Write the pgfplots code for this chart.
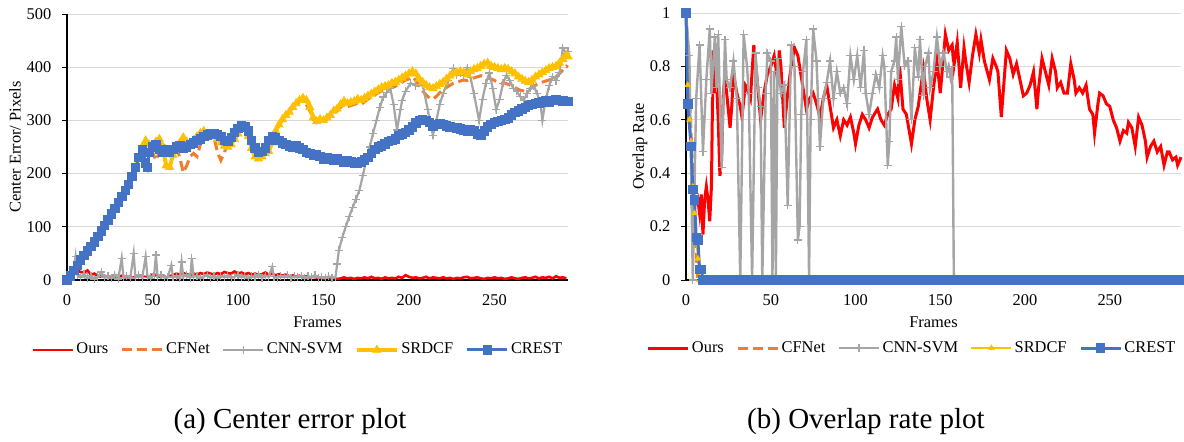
\documentclass[border=0pt]{standalone}
\usepackage{fontspec}
\setmainfont{Liberation Serif}
\usepackage{pgfplots}
\pgfplotsset{compat=1.18}
\definecolor{oursred}{RGB}{255,0,0}
\definecolor{cforange}{RGB}{237,125,49}
\definecolor{svmgray}{RGB}{165,165,165}
\definecolor{srgold}{RGB}{255,192,0}
\definecolor{crblue}{RGB}{68,114,196}
\definecolor{gridgray}{RGB}{217,217,217}
\pgfplotsset{
  common/.style={
    scale only axis,
    axis x line*=bottom, axis y line*=left,
    axis line style={black, line width=0.6pt},
    xtick style={draw=none},
    ytick style={black, line width=0.5pt},
    major tick length=2.5pt, tick align=outside,
    ymajorgrids, grid style={line width=0.5pt, draw=gridgray},
    tick label style={font=\fontsize{8.2}{9.8}\selectfont},
    /pgf/number format/assume math mode=true,
    xticklabel style={yshift=-1.2pt},
    yticklabel style={xshift=-1.8pt},
    label style={font=\fontsize{8.2}{9.8}\selectfont},
    clip=false,
    xtick={0,50,...,250},
    legend image code/.code={\draw[mark repeat=2,mark phase=2,##1] plot coordinates {(0pt,0pt) (10pt,0pt) (20pt,0pt)};},
    legend style={draw=none, fill=none, legend columns=5, font=\fontsize{8.2}{9.8}\selectfont,
      /tikz/every even column/.append style={column sep=5pt}, inner sep=0pt,
      nodes={inner sep=1.2pt}},
  },
  ours/.style={oursred, line width=1.3pt, no marks},
  cfnet/.style={cforange, line width=1.5pt, dash pattern=on 5pt off 2.5pt, no marks},
  svm/.style={svmgray, line width=1.1pt, mark=+, mark size=2pt, mark options={solid, line width=0.6pt}},
  srdcf/.style={srgold, line width=2pt, mark=triangle*, mark size=2.3pt, mark options={solid, line width=0.4pt}},
  crest/.style={crblue, line width=1.5pt, mark=square*, mark size=2.1pt, mark options={solid, line width=0.4pt}},
}
\begin{document}
\begin{tikzpicture}[x=1pt,y=1pt]
\useasboundingbox (0,0) rectangle (592,220.5);
% ---------------- left: center error ----------------
\begin{axis}[common,
  at={(33.5pt,80.5pt)}, anchor=south west,
  width=250.5pt, height=133pt,
  xmin=0, xmax=293, ymin=0, ymax=500,
  ytick={0,100,...,500},
  xlabel={Frames}, ylabel={Center Error/ Pixels},
  xlabel style={at={(axis description cs:0.5,-0.158)}, anchor=center},
  ylabel style={at={(axis description cs:-0.1038,0.5)}, rotate=0, anchor=center},
  legend style={at={(axis description cs:0.461,-0.263)}, anchor=center},
]
\addplot[ours] coordinates {
(0,0)(2,5)(4,12)(6,18)(8,15)(10,14)(12,18)(14,10)(16,12)(18,8)(20,6)(22,8)(24,5)(26,7)(28,4)(30,6)(32,8)(34,5)(36,7)(38,4)(40,6)(42,8)(44,5)(46,7)(48,6)(50,10)(52,8)(54,6)(56,8)(58,5)(60,7)(62,9)(64,12)(66,10)(68,13)(70,11)(72,9)(74,12)(76,10)(78,13)(80,11)(82,14)(84,12)(86,10)(88,13)(90,11)(92,15)(94,13)(96,12)(98,16)(100,12)(102,14)(104,11)(106,13)(108,10)(110,12)(112,9)(114,11)(116,14)(118,10)(120,12)(122,9)(124,11)(126,8)(128,10)(130,7)(132,9)(134,6)(136,8)(138,5)(140,7)(142,5)(144,6)(146,4)(148,5)(150,3)(152,5)(154,3)(156,4)(158,2)(160,3)(162,5)(164,3)(166,4)(168,2)(170,4)(172,3)(174,5)(176,3)(178,6)(180,3)(182,4)(184,2)(186,5)(188,3)(190,4)(192,3)(194,6)(196,4)(198,9)(200,6)(202,4)(204,5)(206,3)(208,4)(210,6)(212,3)(214,5)(216,4)(218,3)(220,5)(222,3)(224,4)(226,2)(228,4)(230,3)(232,5)(234,6)(236,3)(238,4)(240,5)(242,3)(244,2)(246,4)(248,3)(250,5)(252,3)(254,4)(256,2)(258,3)(260,5)(262,3)(264,2)(266,4)(268,5)(270,3)(272,4)(274,6)(276,3)(278,5)(280,4)(282,6)(284,3)(286,7)(288,4)(290,5)(292,3)
};
\addlegendentry{Ours}
\addplot[cfnet] coordinates {
(0,0)(10,46)(20,92)(30,146)(40,212)(44,248)(46,255)(48,250)(50,240)(52,225)(54,240)(56,255)(58,250)(60,245)(62,248)(64,250)(66,230)(68,202)(70,215)(72,232)(74,238)(76,232)(78,255)(80,270)(82,275)(84,272)(86,268)(88,240)(90,225)(92,240)(94,255)(96,262)(98,270)(100,282)(102,290)(104,285)(106,268)(108,250)(110,235)(112,228)(114,232)(116,240)(118,250)(120,265)(122,280)(124,292)(126,300)(128,308)(130,318)(132,325)(134,330)(136,335)(138,338)(140,330)(142,318)(144,302)(146,296)(148,300)(150,298)(152,302)(154,308)(156,314)(158,318)(160,325)(162,330)(164,326)(166,328)(168,330)(170,332)(172,330)(174,335)(176,340)(178,344)(180,348)(182,352)(184,355)(186,358)(188,360)(190,362)(192,364)(194,368)(196,372)(198,376)(200,378)(202,382)(204,375)(206,365)(208,355)(210,348)(212,342)(214,340)(216,345)(218,352)(220,358)(222,362)(224,366)(226,370)(228,372)(230,374)(232,376)(234,375)(236,378)(238,380)(240,382)(242,384)(244,382)(246,380)(248,378)(250,375)(252,372)(254,370)(256,370)(258,368)(260,365)(262,362)(264,358)(266,356)(268,355)(270,358)(272,362)(274,366)(276,370)(278,372)(280,374)(282,376)(284,378)(286,382)(288,388)(290,395)(292,402)(293,400)
};
\addlegendentry{CFNet}
\addplot[svm] coordinates {
(0,0)(2,5)(4,20)(5,44)(6,10)(8,5)(10,12)(12,3)(14,8)(16,2)(18,6)(20,15)(22,4)(24,8)(26,3)(28,10)(30,2)(32,41)(33,5)(35,8)(37,3)(39,50)(40,5)(42,10)(44,4)(46,44)(47,8)(49,3)(51,12)(52,47)(53,6)(55,10)(57,4)(59,6)(61,28)(62,5)(64,8)(66,3)(67,34)(68,6)(70,10)(72,4)(73,41)(74,6)(76,8)(78,3)(80,6)(82,10)(84,4)(86,7)(88,3)(90,8)(92,5)(94,9)(96,4)(98,6)(100,10)(102,5)(104,8)(106,3)(108,7)(110,5)(112,10)(114,4)(116,8)(118,6)(120,25)(121,6)(123,4)(125,8)(127,5)(129,9)(131,4)(133,7)(135,5)(137,8)(139,3)(141,7)(143,5)(145,9)(147,4)(149,6)(151,3)(153,7)(155,4)(157,5)(158,30)(159,56)(161,80)(163,100)(165,119)(167,136)(169,152)(171,169)(173,196)(175,225)(177,250)(179,276)(181,300)(183,325)(185,344)(187,352)(189,361)(191,330)(193,282)(195,320)(196,338)(198,355)(201,370)(204,365)(208,367)(211,320)(214,272)(216,300)(218,330)(220,351)(223,375)(226,398)(228,385)(230,390)(232,385)(234,399)(236,380)(238,350)(241,300)(243,340)(245,370)(247,389)(249,360)(251,320)(253,340)(255,370)(257,385)(259,375)(261,360)(263,355)(265,345)(267,338)(269,350)(271,360)(273,365)(275,350)(277,330)(278,300)(280,340)(282,365)(284,382)(286,375)(288,390)(290,436)(292,425)(293,430)
};
\addlegendentry{CNN-SVM}
\addplot[srdcf] coordinates {
(0,0)(4,18)(8,38)(12,55)(16,72)(20,92)(24,113)(28,135)(32,157)(36,180)(40,212)(44,250)(46,262)(48,255)(50,245)(52,260)(54,265)(56,250)(58,215)(60,212)(62,235)(64,250)(66,258)(68,268)(70,260)(72,255)(74,262)(76,270)(78,276)(80,280)(82,274)(84,270)(86,272)(88,265)(90,258)(92,252)(94,250)(96,255)(98,265)(100,275)(102,288)(104,285)(106,270)(108,248)(110,232)(112,228)(114,232)(116,238)(118,242)(120,258)(122,280)(124,292)(126,302)(128,310)(130,316)(132,325)(134,332)(136,338)(138,342)(140,338)(142,325)(144,305)(146,298)(148,302)(150,300)(152,305)(154,310)(156,318)(158,322)(160,330)(162,336)(164,332)(166,334)(168,336)(170,340)(172,338)(174,342)(176,346)(178,350)(180,354)(182,358)(184,362)(186,364)(188,366)(190,370)(192,372)(194,376)(196,380)(198,384)(200,388)(202,392)(204,388)(206,378)(208,372)(210,366)(212,362)(214,360)(216,364)(218,368)(220,372)(222,378)(224,384)(226,388)(228,390)(230,392)(232,390)(234,386)(236,392)(238,396)(240,398)(242,402)(244,406)(246,408)(248,402)(250,400)(252,398)(254,396)(256,398)(258,396)(260,392)(262,388)(264,382)(266,378)(268,374)(270,372)(272,376)(274,382)(276,386)(278,390)(280,394)(282,398)(284,400)(286,402)(288,408)(290,415)(292,422)(293,420)
};
\addlegendentry{SRDCF}
\addplot[crest] coordinates {
(0,0)(2,8)(4,18)(6,28)(8,38)(10,46)(12,55)(14,63)(16,72)(18,82)(20,92)(22,103)(24,113)(26,124)(28,135)(30,146)(32,157)(34,168)(36,180)(38,195)(40,212)(42,230)(44,245)(46,220)(47,212)(48,240)(50,250)(52,255)(54,245)(56,240)(58,245)(60,240)(62,245)(64,250)(66,252)(68,248)(70,250)(72,255)(74,258)(76,262)(78,265)(80,270)(82,273)(84,276)(86,275)(88,274)(90,270)(92,262)(94,260)(96,268)(98,278)(100,285)(102,290)(104,288)(106,280)(108,262)(110,248)(112,240)(114,242)(116,248)(118,262)(120,270)(122,268)(124,262)(126,258)(128,255)(130,252)(132,250)(134,252)(136,248)(138,245)(140,240)(142,238)(144,235)(146,236)(148,232)(150,228)(152,230)(154,228)(156,226)(158,228)(160,225)(162,222)(164,224)(166,222)(168,220)(170,220)(172,222)(174,226)(176,230)(178,238)(180,245)(182,250)(184,252)(186,256)(188,260)(190,262)(192,265)(194,272)(196,275)(198,278)(200,282)(202,288)(204,295)(206,300)(208,302)(210,300)(212,296)(214,290)(216,292)(218,294)(220,292)(222,290)(224,288)(226,287)(228,286)(230,284)(232,282)(234,280)(236,282)(238,280)(240,275)(242,272)(244,280)(246,288)(248,292)(250,296)(252,298)(254,300)(256,302)(258,305)(260,310)(262,315)(264,318)(266,322)(268,325)(270,328)(272,330)(274,332)(276,333)(278,335)(280,337)(282,335)(284,338)(286,340)(288,338)(290,337)(292,336)(293,336)
};
\addlegendentry{CREST}
\end{axis}
% ---------------- right: overlap rate ----------------
\begin{axis}[common,
  at={(343pt,80.5pt)}, anchor=south west,
  width=247.5pt, height=133.5pt,
  xmin=0, xmax=292, ymin=0, ymax=1,
  ytick={0,0.2,0.4,0.6,0.8,1},
  xlabel={Frames}, ylabel={Overlap Rate},
  xlabel style={at={(axis description cs:0.5,-0.157)}, anchor=center},
  ylabel style={at={(axis description cs:-0.0929,0.5)}, rotate=0, anchor=center},
  legend style={at={(axis description cs:0.457,-0.255)}, anchor=center},
]
\addplot[ours, line width=1.5pt] coordinates {
(6,0.28)(7,0.30)(8,0.25)(9,0.32)(10,0.17)(11,0.30)(12,0.35)(13,0.30)(14,0.22)(15,0.35)(16,0.86)(17,0.70)(18,0.75)(19,0.60)(20,0.39)(21,0.45)(22,0.70)(23,0.76)(24,0.70)(26,0.57)(27,0.65)(28,0.77)(30,0.70)(32,0.65)(33,0.61)(35,0.73)(36,0.72)(38,0.68)(40,0.88)(42,0.75)(44,0.60)(46,0.70)(48,0.77)(50,0.80)(52,0.84)(54,0.75)(55,0.86)(56,0.80)(58,0.57)(60,0.70)(62,0.80)(64,0.87)(66,0.84)(67,0.80)(69,0.72)(71,0.64)(73,0.68)(75,0.70)(77,0.66)(79,0.61)(81,0.68)(83,0.73)(85,0.65)(87,0.57)(89,0.60)(91,0.54)(93,0.60)(95,0.58)(97,0.61)(99,0.55)(100,0.51)(102,0.58)(104,0.62)(106,0.60)(108,0.57)(110,0.61)(113,0.64)(115,0.60)(117,0.58)(119,0.62)(121,0.64)(123,0.73)(125,0.68)(126,0.80)(128,0.64)(130,0.62)(133,0.51)(135,0.60)(137,0.65)(140,0.79)(142,0.68)(144,0.60)(146,0.72)(148,0.82)(150,0.70)(153,0.92)(155,0.86)(157,0.88)(158,0.80)(160,0.89)(162,0.72)(164,0.87)(165,0.82)(167,0.74)(169,0.84)(171,0.92)(173,0.85)(174,0.90)(176,0.82)(179,0.75)(181,0.83)(183,0.80)(184,0.78)(186,0.61)(189,0.86)(191,0.83)(193,0.77)(195,0.81)(197,0.75)(199,0.69)(201,0.70)(203,0.73)(205,0.78)(207,0.64)(208,0.72)(210,0.83)(212,0.78)(214,0.73)(216,0.83)(218,0.78)(219,0.72)(221,0.74)(223,0.70)(225,0.70)(227,0.81)(229,0.75)(230,0.70)(232,0.72)(234,0.70)(236,0.73)(238,0.64)(240,0.62)(241,0.55)(243,0.66)(244,0.70)(246,0.69)(248,0.66)(250,0.65)(252,0.60)(254,0.57)(256,0.52)(258,0.56)(260,0.55)(261,0.59)(263,0.57)(265,0.50)(267,0.61)(269,0.58)(271,0.52)(272,0.46)(274,0.50)(276,0.52)(278,0.48)(280,0.50)(282,0.43)(284,0.48)(285,0.48)(287,0.45)(289,0.46)(290,0.43)(292,0.46)
};
\addlegendentry{Ours}
\addplot[cfnet] coordinates {(0,1)(2,0.7)(4,0.4)(6,0.1)(7,0)(292,0)};
\addlegendentry{CFNet}
\addplot[svm, line width=1.2pt] coordinates {
(0,1)(2,0.84)(4,0)(6,0.68)(8,0.88)(10,0.48)(12,0.75)(14,0.94)(15,0.70)(17,0.91)(18,0.72)(19,0.92)(21,0.42)(23,0.90)(24,0.75)(26,0.72)(28,0.82)(30,0.68)(32,0)(34,0.92)(36,0.80)(37,0.70)(39,0)(41,0.85)(42.5,0.72)(44,0.65)(45,0)(47,0.70)(48,0.85)(50,0.82)(51,0)(52,0.78)(53,0)(54,0.83)(56,0.70)(58,0.73)(60,0.28)(62,0.88)(64,0.80)(66,0.15)(67,0.20)(68,0.62)(69,0.78)(71,0.90)(72.6,0)(73.5,0.6)(75,0.94)(77,0.82)(79,0.50)(81,0.68)(83,0.74)(85,0.82)(87,0.68)(89,0.78)(91,0.70)(93,0.72)(95,0.66)(97,0.84)(99,0.75)(101,0.84)(103,0.72)(105,0.86)(106,0.70)(108,0.62)(110,0.70)(112,0.77)(114,0.72)(116,0.84)(117,0.80)(119,0.43)(120,0.52)(121,0.78)(123,0.82)(124,0.91)(125,0.75)(127,0.95)(129,0.80)(131,0.82)(133,0.60)(135,0.87)(137,0.76)(138,0.90)(140,0.69)(141,0.80)(143,0.85)(144,0.72)(146,0.78)(148,0.91)(150,0.80)(152,0.85)(154,0.78)(155,0.80)(156,0.76)(157,0.80)(158,0.01)(160,0)(292,0)
};
\addlegendentry{CNN-SVM}
\addplot[srdcf, line width=0.8pt, mark size=1.5pt] coordinates {(0,1)(1,0.73)(2,0.6)(3,0.52)(4,0.35)(5,0.25)(6,0.15)(7,0.08)(8,0)(292,0)};
\addlegendentry{SRDCF}
\addplot[crest] coordinates {
(0,1)(1,0.66)(3,0.5)(4,0.34)(5,0.30)(6,0.16)(7,0.15)(8,0.04)(9,0.04)(10,0)(13,0)(16,0)(19,0)(22,0)(25,0)(28,0)(31,0)(34,0)(37,0)(40,0)(43,0)(46,0)(49,0)(52,0)(55,0)(58,0)(61,0)(64,0)(67,0)(70,0)(73,0)(76,0)(79,0)(82,0)(85,0)(88,0)(91,0)(94,0)(97,0)(100,0)(103,0)(106,0)(109,0)(112,0)(115,0)(118,0)(121,0)(124,0)(127,0)(130,0)(133,0)(136,0)(139,0)(142,0)(145,0)(148,0)(151,0)(154,0)(157,0)(160,0)(163,0)(166,0)(169,0)(172,0)(175,0)(178,0)(181,0)(184,0)(187,0)(190,0)(193,0)(196,0)(199,0)(202,0)(205,0)(208,0)(211,0)(214,0)(217,0)(220,0)(223,0)(226,0)(229,0)(232,0)(235,0)(238,0)(241,0)(244,0)(247,0)(250,0)(253,0)(256,0)(259,0)(262,0)(265,0)(268,0)(271,0)(274,0)(277,0)(280,0)(283,0)(286,0)(289,0)(292,0)
};
\addlegendentry{CREST}
\end{axis}
\node[font=\fontsize{14.5}{17}\selectfont, anchor=center] at (145,9.5) {(a) Center error plot};
\node[font=\fontsize{14.5}{17}\selectfont, anchor=center] at (433,9.5) {(b) Overlap rate plot};
\end{tikzpicture}
\end{document}
